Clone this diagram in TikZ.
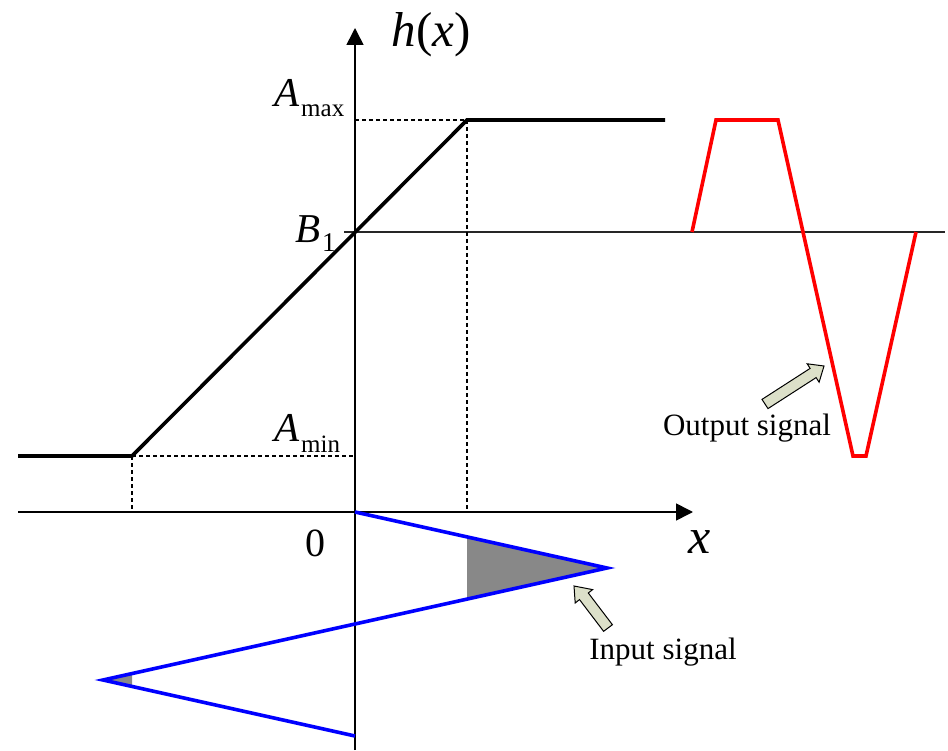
\documentclass[tikz,border=0pt]{standalone}
\usepackage{fontspec}
\setmainfont{Liberation Serif}
\usetikzlibrary{arrows.meta}
\definecolor{blockfill}{HTML}{DCE0C9}
\definecolor{greyfill}{HTML}{888888}
\tikzset{
  axisline/.style={line width=1.6pt, -{Triangle[length=17pt,width=17pt]}},
  funcline/.style={line width=3.6pt, line join=miter},
  guideline/.style={line width=2.8pt, dash pattern=on 4pt off 3pt},
  refline/.style={line width=1.1pt, black!85},
  outsig/.style={line width=3.6pt, red, line join=miter},
  insig/.style={line width=3.6pt, blue, line join=miter},
  blockarrow/.style={draw=black, line width=1pt, fill=blockfill},
  lab/.style={inner sep=0pt},
  biglab/.style={lab, font=\fontsize{41}{43}\selectfont\itshape},
  sublab/.style={lab, font=\fontsize{25}{27}\selectfont},
  caption/.style={lab, font=\fontsize{31}{34}\selectfont},
}
\begin{document}
\begin{tikzpicture}[x=1pt,y=-1pt]
\useasboundingbox (0,0) rectangle (948,751);
% key points
\coordinate (ybot) at (355,750);
\coordinate (ytop) at (355,28);
\coordinate (xl) at (18,512);
\coordinate (xr) at (693,512);
\coordinate (sl) at (18,456);
\coordinate (kl) at (132,456);
\coordinate (kr) at (467,120);
\coordinate (sr) at (665,120);
\coordinate (amax) at (355,120);
\coordinate (amin) at (355,456);
\coordinate (klx) at (132,512);
\coordinate (krx) at (467,512);
\coordinate (b1l) at (344,232);
\coordinate (b1r) at (945,232);
% input signal points
\coordinate (i0) at (355,512);
\coordinate (i1) at (607,568);
\coordinate (i2) at (103,680);
\coordinate (i3) at (355,736);
\coordinate (g1) at (467,537);
\coordinate (g2) at (467,599);
\coordinate (h1) at (132,673.6);
\coordinate (h2) at (132,686.4);
% output signal points
\coordinate (o0) at (692,232);
\coordinate (o1) at (716,120);
\coordinate (o2) at (778,120);
\coordinate (o3) at (853,456);
\coordinate (o4) at (866,456);
\coordinate (o5) at (916,232);

% shaded areas
\fill[greyfill] (g1) -- (i1) -- (g2) -- cycle;
\fill[greyfill] (i2) -- (h1) -- (h2) -- cycle;

% reference line through B1
\draw[refline] (b1l) -- (b1r);

% axes
\draw[axisline] (ybot) -- (ytop);
\draw[axisline] (xl) -- (xr);

% guide lines
\draw[guideline] (amax) -- (kr);
\draw[guideline] (kr) -- (krx);
\draw[guideline] (kl) -- (amin);
\draw[guideline] (kl) -- (klx);

% transfer function
\draw[funcline] (sl) -- (kl) -- (kr) -- (sr);

% input signal
\draw[insig] (i0) -- (i1) -- (i2) -- (i3);

% output signal
\draw[outsig] (o0) -- (o1) -- (o2) -- (o3) -- (o4) -- (o5);

% block arrows
\draw[blockarrow] (762.0,399.4) -- (810.1,368.4) -- (807.2,363.8) -- (824,366)
  -- (819.1,382.2) -- (816.1,377.6) -- (768.0,408.6) -- cycle;
\draw[blockarrow] (603.6,631.3) -- (579.5,599.6) -- (575.2,603.0) -- (574,586)
  -- (592.6,589.6) -- (588.3,593.0) -- (612.4,624.7) -- cycle;

% labels
\node[lab, font=\fontsize{49}{51}\selectfont] (hx) at (431,35) {\textit{h}(\textit{x})};
\node[biglab, anchor=base west] (Amx) at (274,107) {A};
\node[sublab, anchor=base west] (amxs) at (301,117) {max};
\node[biglab, anchor=base west] (Amn) at (274,441) {A};
\node[sublab, anchor=base west] (amns) at (301,452) {min};
\node[biglab, anchor=base west] (B) at (295,243) {B};
\node[lab, font=\fontsize{27}{29}\selectfont, anchor=base west] (bs) at (322,252) {1};
\node[lab, font=\fontsize{40}{42}\selectfont] (zero) at (315,543) {0};
\node[lab, font=\fontsize{50}{52}\selectfont\itshape] (xlab) at (700,542) {x};
\node[caption] (outl) at (747,428) {Output signal};
\node[caption] (inl) at (663,652) {Input signal};
\end{tikzpicture}
\end{document}
